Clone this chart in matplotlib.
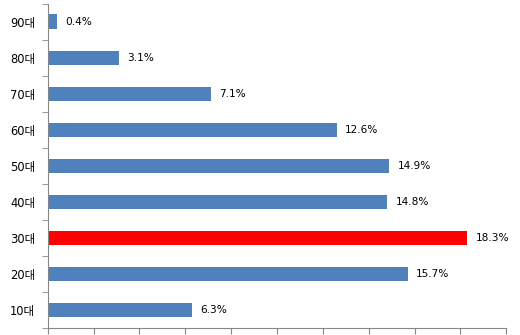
import matplotlib
matplotlib.use("Agg")
import matplotlib.pyplot as plt
import numpy as np

plt.rcParams['font.family'] = ['DejaVu Sans', 'Noto Sans CJK KR']

categories = ["10대", "20대", "30대", "40대", "50대", "60대", "70대", "80대", "90대"]
values = [6.3, 15.7, 18.3, 14.8, 14.9, 12.6, 7.1, 3.1, 0.4]
highlight = "30대"

fig = plt.figure(figsize=(5.2, 3.35), dpi=100)
ax = fig.add_axes([47.7/520, 7.3/335, (506.3-47.7)/520, (327.7-3.7)/335])

y = np.arange(len(categories))
colors = ["#FF0000" if c == highlight else "#4F81BD" for c in categories]
ax.barh(y, values, height=0.4, color=colors)

for yi, v in zip(y, values):
    ax.annotate(f"{v}%", (v, yi), xytext=(6, 0), textcoords="offset points",
                va="center", ha="left", fontsize=7.6, color="black")

ax.set_xlim(0, 20)
ax.set_ylim(-0.5, len(categories) - 0.5)
ax.set_xticks(np.arange(0, 21, 2))
ax.set_xticklabels([])
ax.set_yticks(y)
ax.set_yticklabels(categories, fontsize=8.3)
ax.set_yticks(np.arange(-0.5, len(categories), 1), minor=True)
ax.tick_params(axis='y', which='major', length=0, pad=9)
ax.tick_params(axis='y', which='minor', length=4, color="#868686", direction="out")
ax.tick_params(axis='x', which='major', length=4, color="#868686", direction="out")

for s in ["top", "right"]:
    ax.spines[s].set_visible(False)
for s in ["left", "bottom"]:
    ax.spines[s].set_color("#868686")

fig.savefig("out.png", dpi=100)
